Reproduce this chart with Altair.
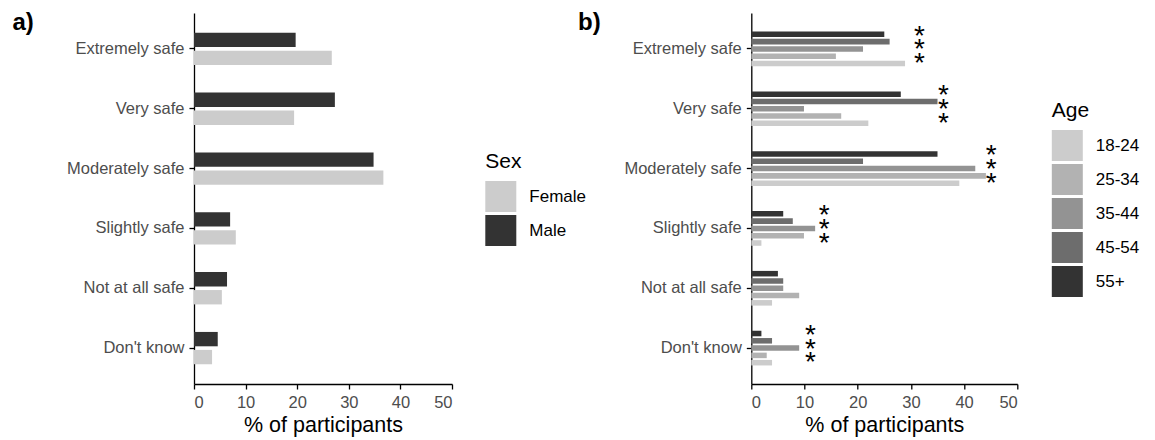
import altair as alt
import pandas as pd

FONT = "Liberation Sans"

categories = ["Extremely safe", "Very safe", "Moderately safe", "Slightly safe",
              "Not at all safe", "Don't know"]

sexes = ["Female", "Male"]
female_pct = [26.7, 19.4, 36.7, 8.1, 5.4, 3.5]
male_pct = [19.7, 27.3, 34.8, 7.0, 6.4, 4.6]

age_groups = ["18-24", "25-34", "35-44", "45-54", "55+"]
age_18_24 = [28.9, 22.0, 39.1, 1.9, 3.9, 3.9]
age_25_34 = [15.9, 16.9, 44.1, 9.9, 9.0, 2.9]
age_35_44 = [21.0, 9.9, 42.1, 12.0, 6.0, 9.0]
age_45_54 = [26.0, 35.0, 21.0, 7.8, 6.0, 3.9]
age_55_plus = [25.0, 28.1, 35.0, 6.0, 5.0, 1.9]

star_categories = ["Extremely safe", "Very safe", "Moderately safe", "Slightly safe", "Don't know"]
star_x = [31.6, 36.1, 45.1, 13.7, 11.1]

sex_colors = ["#CCCCCC", "#333333"]
age_colors = ["#CCCCCC", "#B2B2B2", "#939393", "#6D6D6D", "#333333"]

# ---- tables ----
rows = []
for c, f, m in zip(categories, female_pct, male_pct):
    rows.append({"category": c, "sex": "Female", "pct": f})
    rows.append({"category": c, "sex": "Male", "pct": m})
df_sex = pd.DataFrame(rows)

age_series = [age_18_24, age_25_34, age_35_44, age_45_54, age_55_plus]
rows = []
for ag, vals in zip(age_groups, age_series):
    for c, v in zip(categories, vals):
        rows.append({"category": c, "age": ag, "pct": v})
df_age = pd.DataFrame(rows)

df_star = pd.DataFrame({"category": star_categories, "x": star_x})

x_axis = alt.Axis(values=[0, 10, 20, 30, 40, 50], title="% of participants",
                  labelPadding=5, titlePadding=4)


def y_axis(tag, dx):
    # the panel tag ("a)" / "b)") is drawn as the y-axis title, upright at the top-left
    return alt.Axis(title=tag, labelPadding=5, titleAngle=0, titleX=dx, titleY=9,
                    titleAlign="left", titleBaseline="middle", titleFontSize=24,
                    titleFontWeight="bold", titleColor="black")


# ---- panel a ----
chart_a = alt.Chart(df_sex).mark_bar().encode(
    x=alt.X("pct:Q", scale=alt.Scale(domain=[0, 50], nice=False), axis=x_axis),
    y=alt.Y("category:N", sort=categories,
            scale=alt.Scale(paddingInner=0.46, paddingOuter=0.33),
            axis=y_axis("a)", -182)),
    yOffset=alt.YOffset("sex:N",
                        scale=alt.Scale(domain=["Male", "Female"],
                                        paddingInner=0.2, paddingOuter=0)),
    color=alt.Color("sex:N", scale=alt.Scale(domain=sexes, range=sex_colors),
                    legend=alt.Legend(title="Sex", orient="none", legendX=291.3,
                                      legendY=138, direction="vertical")),
).properties(width=258, height=371)

# ---- panel b ----
bars_b = alt.Chart(df_age).mark_bar().encode(
    x=alt.X("pct:Q", scale=alt.Scale(domain=[0, 50], nice=False), axis=x_axis),
    y=alt.Y("category:N", sort=categories,
            scale=alt.Scale(paddingInner=0.42, paddingOuter=0.31),
            axis=y_axis("b)", -173.7)),
    yOffset=alt.YOffset("age:N",
                        scale=alt.Scale(domain=list(reversed(age_groups)),
                                        paddingInner=0.24, paddingOuter=0)),
    color=alt.Color("age:N", scale=alt.Scale(domain=age_groups, range=age_colors),
                    legend=alt.Legend(title="Age", orient="none", legendX=300.5,
                                      legendY=87, direction="vertical")),
)

stars_b = alt.Chart(df_star).mark_text(
    text="*\n*\n*", lineBreak="\n", lineHeight=13.8, fontSize=28, font=FONT,
    color="black", align="center", baseline="middle", dy=-12.3,
).encode(
    x=alt.X("x:Q"),
    y=alt.Y("category:N", sort=categories),
)

chart_b = alt.layer(bars_b, stars_b).properties(width=266, height=371)

chart = alt.hconcat(chart_a, chart_b, spacing=299.3, bounds="flush").resolve_scale(
    color="independent", x="independent", y="independent", yOffset="independent"
).properties(
    padding={"left": 12, "top": 10, "right": 5, "bottom": 5}
).configure(
    font=FONT,
).configure_view(
    stroke=None,
).configure_axis(
    grid=False,
    domainColor="black", domainWidth=1.3,
    tickColor="black", tickWidth=1.3, tickSize=5,
    labelColor="#4D4D4D", labelFontSize=16.5, labelFont=FONT,
    titleColor="black", titleFontSize=21.5, titleFontWeight="normal", titleFont=FONT,
).configure_legend(
    symbolType="square", symbolSize=961, symbolStrokeWidth=0,
    labelFontSize=17, labelColor="black", labelFont=FONT, labelOffset=13,
    titleFontSize=21, titleFontWeight="normal", titleColor="black", titleFont=FONT,
    titlePadding=9, rowPadding=3, padding=0,
)

chart.save("out.html", embed_options={"renderer": "svg", "actions": False})
